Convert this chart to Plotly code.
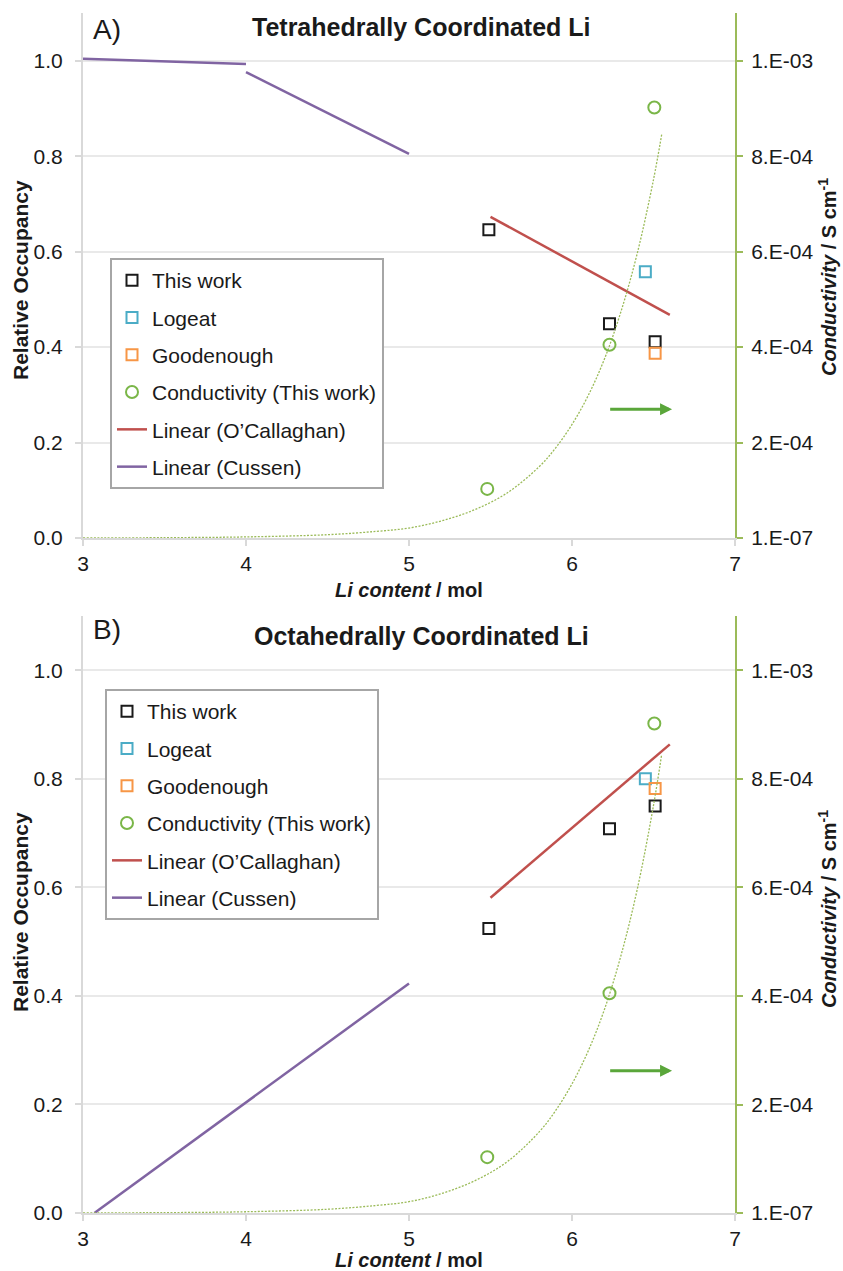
import plotly.graph_objects as go

# ---------------- data ----------------
x_this = [5.49, 6.23, 6.51]
tet_this = [0.646, 0.449, 0.411]
oct_this = [0.524, 0.708, 0.750]

x_logeat = [6.45]
tet_logeat = [0.558]
oct_logeat = [0.800]

x_good = [6.51]
tet_good = [0.387]
oct_good = [0.782]

x_cond = [5.48, 6.23, 6.505]
cond = [1.03e-4, 4.05e-4, 9.02e-4]

x_ocall = [5.50, 6.60]
tet_ocall = [0.673, 0.4675]
oct_ocall = [0.581, 0.8635]

x_cussen_tet = [3.0, 4.0, None, 4.0, 5.0]
tet_cussen = [1.004, 0.993, None, 0.976, 0.805]
x_cussen_oct = [3.07, 5.0]
oct_cussen = [0.0, 0.423]

# exponential trendline of conductivity
x_trend = [3.0, 3.5, 4.0, 4.5, 4.8, 5.0, 5.2, 5.4, 5.6, 5.8, 5.9, 6.0,
           6.1, 6.2, 6.3, 6.4, 6.5, 6.55]
cond_trend = [0.24e-6, 0.76e-6, 2.4e-6, 7.0e-6, 1.4e-5, 2.1e-5, 3.6e-5, 5.9e-5,
              9.4e-5, 1.50e-4, 1.89e-4, 2.38e-4, 2.99e-4, 3.76e-4, 4.74e-4,
              5.96e-4, 7.51e-4, 8.45e-4]

arrow_x = [6.225, 6.614]
arrow_y_top = 0.27
arrow_y_bot = 0.262

x_ticks = [3, 4, 5, 6, 7]
occ_ticks = [0.0, 0.2, 0.4, 0.6, 0.8, 1.0]
occ_ticktext = ["0.0", "0.2", "0.4", "0.6", "0.8", "1.0"]
cond_ticks = [1e-7, 2e-4, 4e-4, 6e-4, 8e-4, 1e-3]
cond_ticktext = ["1.E-07", "2.E-04", "4.E-04", "6.E-04", "8.E-04", "1.E-03"]

panel_titles = ["Tetrahedrally Coordinated Li", "Octahedrally Coordinated Li"]
panel_labels = ["A)", "B)"]

# ---------------- styling ----------------
FONT = "Liberation Sans, Arial, sans-serif"
TXT = "#1a1a1a"
C_BLACK = "#1a1a1a"
C_BLUE = "#4bacc6"
C_ORANGE = "#f79646"
C_GREEN = "#7ab648"
C_RED = "#c0504d"
C_PURPLE = "#8064a2"
C_AXGREEN = "#9bbb59"
C_ARROW = "#5aa63a"
GRID = "#e9e9e9"
AXGRAY = "#d9d9d9"

W, H = 843, 1271
L, R, T, B = 83, 108, 13, 58
plot_h = H - T - B  # 1200


def py(pix):
    return (H - B - pix) / plot_h


def px(pix):
    return (pix - L) / (W - L - R)


fig = go.Figure()

panels = [
    dict(xa="x", ya="y", ya2="y2", leg="legend",
         this=tet_this, logeat=tet_logeat, good=tet_good,
         ocall=tet_ocall, cx=x_cussen_tet, cy=tet_cussen),
    dict(xa="x2", ya="y3", ya2="y4", leg="legend2",
         this=oct_this, logeat=oct_logeat, good=oct_good,
         ocall=oct_ocall, cx=x_cussen_oct, cy=oct_cussen),
]

for i, p in enumerate(panels):
    g = f"p{i}"
    fig.add_trace(go.Scatter(x=x_trend, y=cond_trend, mode="lines",
                             line=dict(color=C_AXGREEN, width=1.3, dash="2px,1.5px", shape="spline"),
                             xaxis=p["xa"], yaxis=p["ya2"], showlegend=False, hoverinfo="skip"))
    fig.add_trace(go.Scatter(x=x_this, y=p["this"], mode="markers", name="This work",
                             marker=dict(symbol="square-open", size=11, color=C_BLACK,
                                         line=dict(width=2, color=C_BLACK)),
                             xaxis=p["xa"], yaxis=p["ya"], legend=p["leg"], legendgroup=g + "a"))
    fig.add_trace(go.Scatter(x=x_logeat, y=p["logeat"], mode="markers", name="Logeat",
                             marker=dict(symbol="square-open", size=11, color=C_BLUE,
                                         line=dict(width=2, color=C_BLUE)),
                             xaxis=p["xa"], yaxis=p["ya"], legend=p["leg"], legendgroup=g + "b"))
    fig.add_trace(go.Scatter(x=x_good, y=p["good"], mode="markers", name="Goodenough",
                             marker=dict(symbol="square-open", size=11, color=C_ORANGE,
                                         line=dict(width=2, color=C_ORANGE)),
                             xaxis=p["xa"], yaxis=p["ya"], legend=p["leg"], legendgroup=g + "c"))
    fig.add_trace(go.Scatter(x=x_cond, y=cond, mode="markers", name="Conductivity (This work)",
                             marker=dict(symbol="circle-open", size=12, color=C_GREEN,
                                         line=dict(width=2, color=C_GREEN)),
                             xaxis=p["xa"], yaxis=p["ya2"], legend=p["leg"], legendgroup=g + "d"))
    fig.add_trace(go.Scatter(x=x_ocall, y=p["ocall"], mode="lines", name="Linear (O’Callaghan)",
                             line=dict(color=C_RED, width=2.5),
                             xaxis=p["xa"], yaxis=p["ya"], legend=p["leg"], legendgroup=g + "e"))
    fig.add_trace(go.Scatter(x=p["cx"], y=p["cy"], mode="lines", name="Linear (Cussen)",
                             line=dict(color=C_PURPLE, width=2.5), connectgaps=False,
                             xaxis=p["xa"], yaxis=p["ya"], legend=p["leg"], legendgroup=g + "f"))

tickfont = dict(family=FONT, size=21, color=TXT)

xcommon = dict(range=[3, 7], tickvals=x_ticks, showgrid=False, zeroline=False,
               showline=True, linecolor=AXGRAY, linewidth=2, ticks="outside",
               ticklen=6, tickcolor=AXGRAY, tickwidth=2, tickfont=tickfont)
ycommon = dict(range=[0, 1.1], tickvals=occ_ticks, ticktext=occ_ticktext, showgrid=True,
               gridcolor=GRID, gridwidth=1.5, zeroline=False, showline=True,
               linecolor=AXGRAY, linewidth=2, ticks="outside", ticklen=6,
               tickcolor=AXGRAY, tickwidth=2, tickfont=tickfont, ticklabelstandoff=8)
y2common = dict(range=[1e-7, 1.1e-3], tickvals=cond_ticks, ticktext=cond_ticktext,
                showgrid=False, zeroline=False, showline=True, linecolor=C_AXGREEN,
                linewidth=2, ticks="outside", ticklen=6, tickcolor=C_AXGREEN, tickwidth=2,
                tickfont=tickfont, side="right", ticklabelstandoff=4)

top_dom = [py(538), 1.0]
bot_dom = [0.0, py(616)]

fig.update_layout(
    width=W, height=H, autosize=False,
    margin=dict(l=L, r=R, t=T, b=B, pad=0),
    paper_bgcolor="white", plot_bgcolor="white",
    font=dict(family=FONT, color=TXT),
    xaxis=dict(domain=[0, 1], anchor="y", **xcommon),
    yaxis=dict(domain=top_dom, anchor="x", **ycommon),
    yaxis2=dict(domain=top_dom, anchor="x", overlaying="y", **y2common),
    xaxis2=dict(domain=[0, 1], anchor="y3", **xcommon),
    yaxis3=dict(domain=bot_dom, anchor="x2", **ycommon),
    yaxis4=dict(domain=bot_dom, anchor="x2", overlaying="y3", **y2common),
    legend=dict(x=px(110), y=py(258), xanchor="left", yanchor="top",
                bgcolor="white", bordercolor="#a6a6a6", borderwidth=2,
                font=dict(family=FONT, size=21, color=TXT), tracegroupgap=7,
                traceorder="grouped"),
    legend2=dict(x=px(105), y=py(689), xanchor="left", yanchor="top",
                 bgcolor="white", bordercolor="#a6a6a6", borderwidth=2,
                 font=dict(family=FONT, size=21, color=TXT), tracegroupgap=7,
                 traceorder="grouped"),
)

annotations = []
for i, (ttl, lab) in enumerate(zip(panel_titles, panel_labels)):
    ty = [27, 636][i]
    ly = [30, 629][i]
    annotations.append(dict(text=f"<b>{ttl}</b>", xref="paper", yref="paper",
                            x=px(421), y=py(ty), xanchor="center", yanchor="middle",
                            showarrow=False, font=dict(family=FONT, size=25, color=TXT)))
    annotations.append(dict(text=lab, xref="paper", yref="paper",
                            x=px(91), y=py(ly), xanchor="left", yanchor="middle",
                            showarrow=False, font=dict(family=FONT, size=28, color=TXT)))
    xt_y = [590, 1260][i]
    annotations.append(dict(text="<b><i>Li content</i> / mol</b>", xref="paper", yref="paper",
                            x=px(409), y=py(xt_y), xanchor="center", yanchor="middle",
                            showarrow=False, font=dict(family=FONT, size=20, color=TXT)))
    yc = [280, 912][i]
    annotations.append(dict(text="<b>Relative Occupancy</b>", xref="paper", yref="paper",
                            x=px(20), y=py(yc), xanchor="center", yanchor="middle",
                            textangle=-90, showarrow=False,
                            font=dict(family=FONT, size=21, color=TXT)))
    annotations.append(dict(text="<b><i>Conductivity</i> / S cm<sup>-1</sup></b>",
                            xref="paper", yref="paper",
                            x=px(828), y=py(yc - 3), xanchor="center", yanchor="middle",
                            textangle=-90, showarrow=False,
                            font=dict(family=FONT, size=20, color=TXT)))

for xa, ya, ay in [("x", "y", arrow_y_top), ("x2", "y3", arrow_y_bot)]:
    annotations.append(dict(x=arrow_x[1], y=ay, ax=arrow_x[0], ay=ay,
                            xref=xa, yref=ya, axref=xa, ayref=ya, text="",
                            showarrow=True, arrowhead=2, arrowsize=0.8, arrowwidth=3,
                            arrowcolor=C_ARROW, standoff=0, startstandoff=0))

fig.update_layout(annotations=annotations)

fig.write_html("out.html")
